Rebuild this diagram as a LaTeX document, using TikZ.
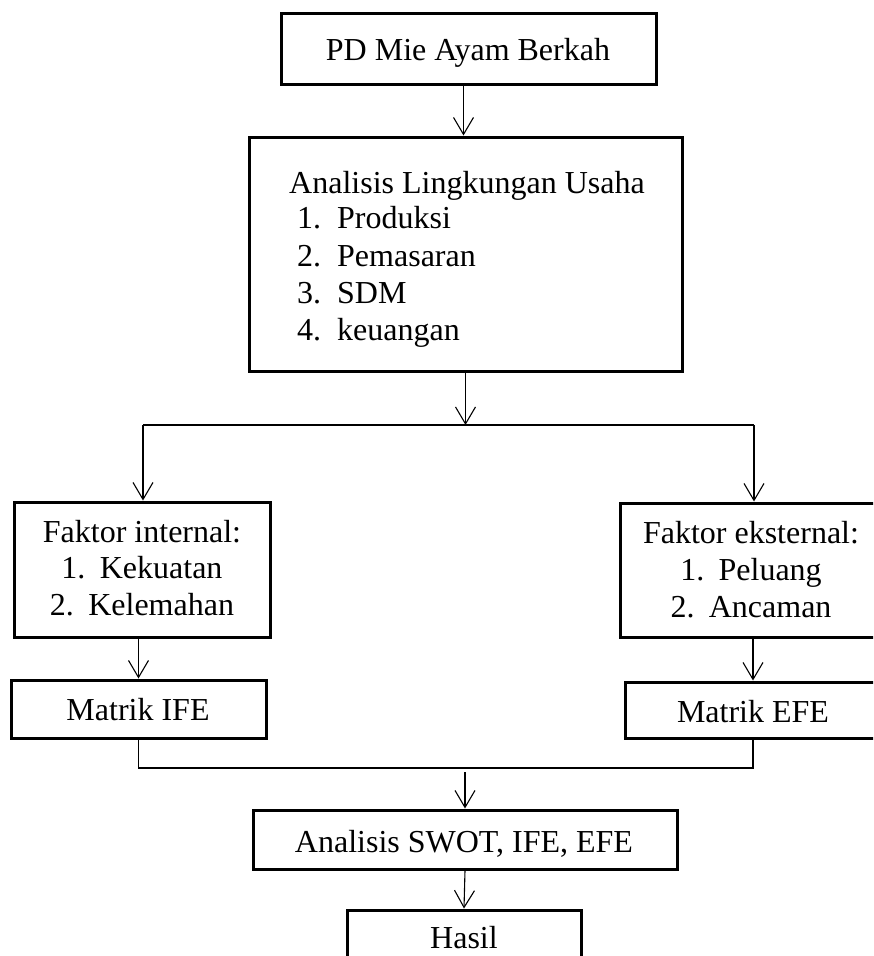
\documentclass[tikz,border=0pt]{standalone}
\usepackage{fontspec}
\setmainfont{Liberation Serif}
\usetikzlibrary{arrows.meta}
\begin{document}
\begin{tikzpicture}[x=1pt,y=-1pt,
 box/.style={draw,line width=3pt,inner sep=0pt},
 txt/.style={anchor=base,inner sep=0pt,font=\fontsize{32}{37}\selectfont},
 ltxt/.style={anchor=base west,inner sep=0pt,font=\fontsize{32}{37}\selectfont},
 arr/.style={line width=1.1pt,-{Straight Barb[length=17pt,width=20pt,line width=1.1pt]}},
 conn/.style={line width=1.4pt}]
\useasboundingbox (0,0) rectangle (873,956);
\clip (0,0) rectangle (873,956);
% boxes
\node[box,minimum width=375pt,minimum height=71pt] (b1) at (468.5,48.5) {};
\node[box,minimum width=433pt,minimum height=234pt] (b2) at (465.5,254) {};
\node[box,minimum width=256pt,minimum height=135pt] (b3) at (142,569.5) {};
\node[box,minimum width=264pt,minimum height=134pt] (b4) at (752,570) {};
\node[box,minimum width=255pt,minimum height=58pt] (b5) at (138.5,709) {};
\node[box,minimum width=256pt,minimum height=56pt] (b6) at (753,710) {};
\node[box,minimum width=424pt,minimum height=59pt] (b7) at (465,839.5) {};
\node[box,minimum width=234pt,minimum height=58pt] (b8) at (464,939) {};
% texts
\node[txt] (t1) at (468,60) {PD Mie Ayam Berkah};
\node[ltxt] (t2) at (289,193) {Analisis Lingkungan Usaha};
\node[ltxt] (n1) at (297,228) {1.};
\node[ltxt] (p1) at (337,228) {Produksi};
\node[ltxt] (n2) at (297,266) {2.};
\node[ltxt] (p2) at (337,266) {Pemasaran};
\node[ltxt] (n3) at (297,303) {3.};
\node[ltxt] (p3) at (337,303) {SDM};
\node[ltxt] (n4) at (297,340) {4.};
\node[ltxt] (p4) at (337,340) {keuangan};
\node[txt] (fi) at (142,542) {Faktor internal:};
\node[txt] (fi1) at (142,578) {1.\hspace{0.45em}Kekuatan};
\node[txt] (fi2) at (142,615) {2.\hspace{0.45em}Kelemahan};
\node[txt] (fe) at (751,543) {Faktor eksternal:};
\node[txt] (fe1) at (751,580) {1.\hspace{0.45em}Peluang};
\node[txt] (fe2) at (751,617) {2.\hspace{0.45em}Ancaman};
\node[txt] (ti) at (138,720) {Matrik IFE};
\node[txt] (te) at (753,722) {Matrik EFE};
\node[txt] (ts) at (464,852) {Analisis SWOT, IFE, EFE};
\node[txt] (th) at (464,948) {Hasil};
% connectors
\coordinate (split) at (466,425);
\coordinate (sl) at (143,425);
\coordinate (sr) at (754,425);
\coordinate (jl) at (138.5,768);
\coordinate (jr) at (753,768);
\coordinate (jm) at (465,772);
\draw[arr] ([xshift=-5pt]b1.south) -- ([xshift=-5pt]b1.south |- b2.north);
\draw[arr] (b2.south) -- (b2.south |- split);
\draw[conn] (sl) -- (sr);
\draw[arr] (sl) -- (sl |- b3.north);
\draw[arr] (sr) -- (sr |- b4.north);
\draw[arr] (b5.north |- b3.south) -- (b5.north);
\draw[arr] (b6.north |- b4.south) -- (b6.north);
\draw[conn] (b5.south) -- (jl) -- (jr) -- (b6.south);
\draw[arr] (jm) -- (b7.north);
\draw[arr] (b7.south) -- (b8.north);
\end{tikzpicture}
\end{document}
